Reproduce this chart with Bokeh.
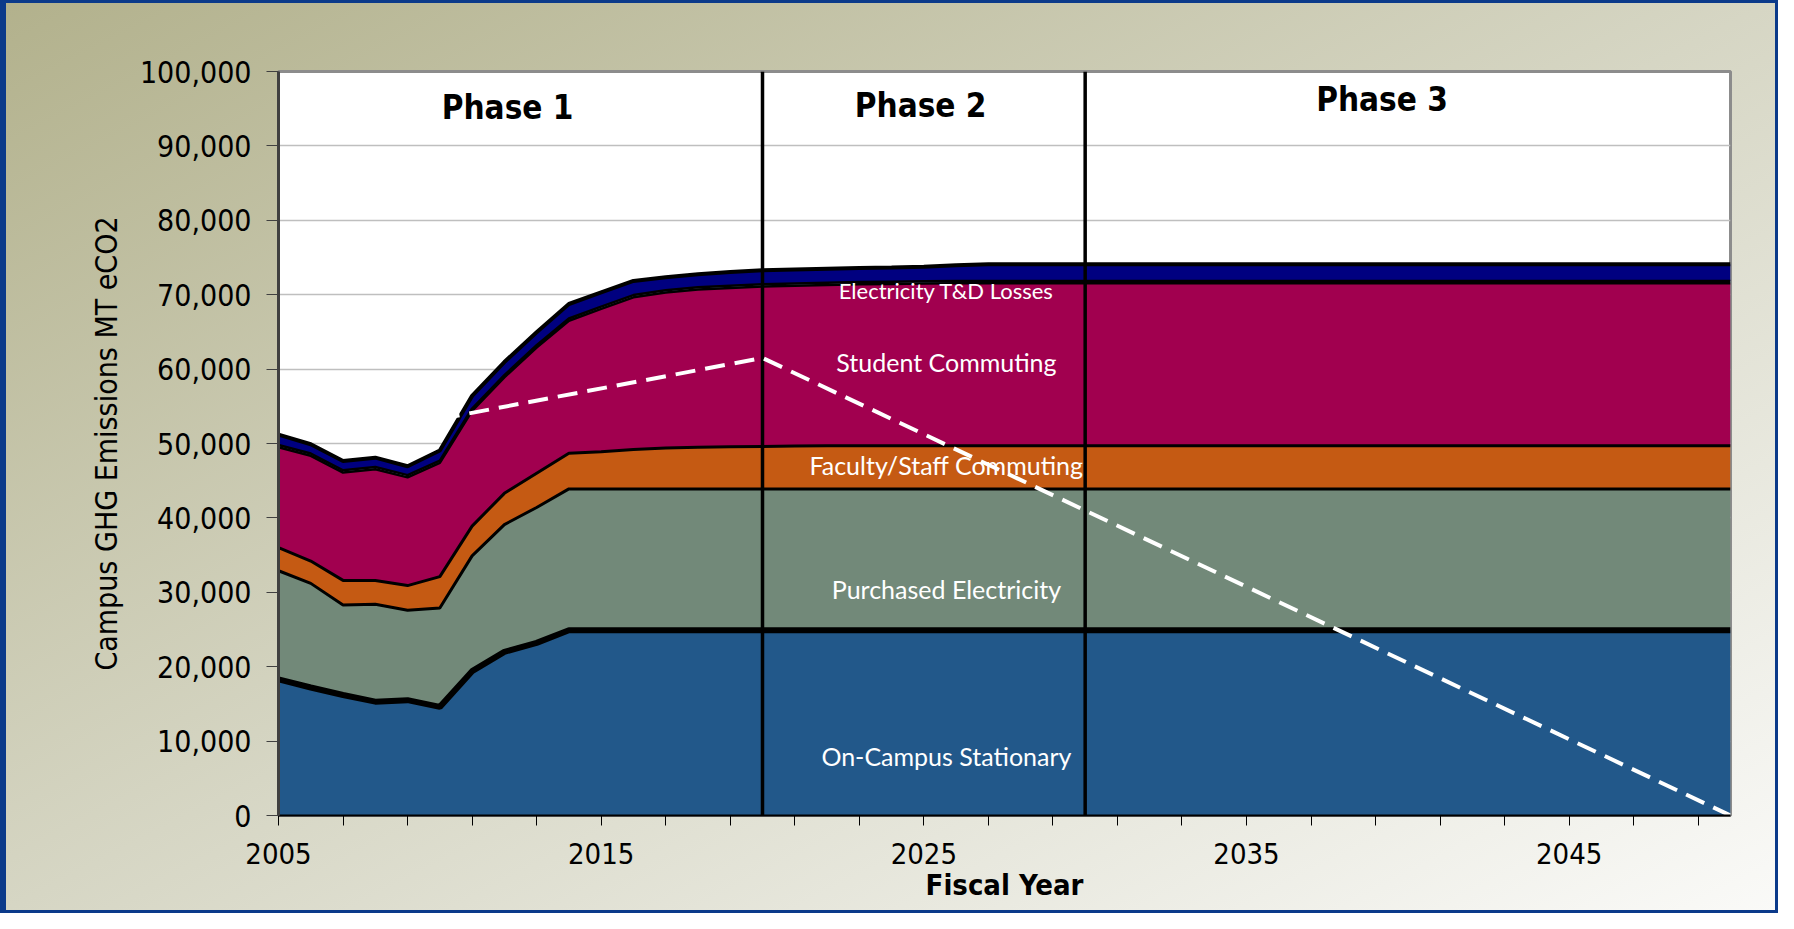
from bokeh.plotting import figure
from bokeh.models import (Range1d, FixedTicker, NumeralTickFormatter, Label,
                          ColumnDataSource)
from bokeh.transform import stack
from bokeh.embed import file_html
from bokeh.resources import INLINE

# ---------------- data ----------------
years = [2005, 2006, 2007, 2008, 2009, 2010, 2011, 2012, 2013, 2014,
         2015, 2016, 2017, 2018, 2019, 2020, 2021, 2022, 2023, 2024,
         2025, 2026, 2027, 2028, 2029, 2030, 2031, 2032, 2033, 2034,
         2035, 2036, 2037, 2038, 2039, 2040, 2041, 2042, 2043, 2044,
         2045, 2046, 2047, 2048, 2049, 2050]

on_campus = [18300, 17200, 16200, 15300, 15500, 14600, 19400, 22000, 23200, 24900,
             24900, 24900, 24900, 24900, 24900, 24900, 24900, 24900, 24900, 24900,
             24900, 24900, 24900, 24900, 24900, 24900, 24900, 24900, 24900, 24900,
             24900, 24900, 24900, 24900, 24900, 24900, 24900, 24900, 24900, 24900,
             24900, 24900, 24900, 24900, 24900, 24900]

purchased = [14600, 14000, 12100, 13100, 12100, 13300, 15500, 17100, 18200, 19000,
             19000, 19000, 19000, 19000, 19000, 19000, 19000, 19000, 19000, 19000,
             19000, 19000, 19000, 19000, 19000, 19000, 19000, 19000, 19000, 19000,
             19000, 19000, 19000, 19000, 19000, 19000, 19000, 19000, 19000, 19000,
             19000, 19000, 19000, 19000, 19000, 19000]

faculty = [3100, 3000, 3300, 3200, 3300, 4200, 4000, 4200, 4600, 4800,
           5000, 5300, 5500, 5600, 5650, 5700, 5750, 5800, 5800, 5800,
           5800, 5800, 5800, 5800, 5800, 5800, 5800, 5800, 5800, 5800,
           5800, 5800, 5800, 5800, 5800, 5800, 5800, 5800, 5800, 5800,
           5800, 5800, 5800, 5800, 5800, 5800]

student = [13500, 14150, 14500, 14950, 14550, 15300, 15500, 15600, 16900, 17800,
           19200, 20450, 20900, 21200, 21350, 21500, 21550, 21600, 21700, 21750,
           21800, 21850, 21850, 21850, 21850, 21850, 21850, 21850, 21850, 21850,
           21850, 21850, 21850, 21850, 21850, 21850, 21850, 21850, 21850, 21850,
           21850, 21850, 21850, 21850, 21850, 21850]

other = [300, 300, 300, 300, 300, 300, 300, 300, 300, 300,
         300, 300, 300, 300, 300, 300, 300, 300, 300, 300,
         300, 300, 300, 300, 300, 300, 300, 300, 300, 300,
         300, 300, 300, 300, 300, 300, 300, 300, 300, 300,
         300, 300, 300, 300, 300, 300]

td_losses = [1400, 1250, 1250, 1250, 1200, 1350, 1700, 1750, 1750, 1950,
             1900, 1900, 1750, 1750, 1850, 1900, 1900, 1900, 1900, 1900,
             1950, 2100, 2250, 2250, 2250, 2250, 2250, 2250, 2250, 2250,
             2250, 2250, 2250, 2250, 2250, 2250, 2250, 2250, 2250, 2250,
             2250, 2250, 2250, 2250, 2250, 2250]

target_years = [2010, 2020, 2050]
target_values = [53300, 61500, 0]

phase_bounds = [2020, 2030]
phase_names = ["Phase 1", "Phase 2", "Phase 3"]

series_labels = ["On-Campus Stationary", "Purchased Electricity",
                 "Faculty/Staff Commuting", "Student Commuting",
                 "Electricity T&D Losses"]

x_title = "Fiscal Year"
y_title = "Campus GHG Emissions MT eCO2"

y_ticks = [0, 10000, 20000, 30000, 40000, 50000, 60000, 70000, 80000, 90000, 100000]
x_major_ticks = [2005, 2015, 2025, 2035, 2045]
x_minor_ticks = [2007, 2009, 2011, 2013, 2017, 2019, 2021, 2023, 2027, 2029,
                 2031, 2033, 2037, 2039, 2041, 2043, 2047, 2049]

# ---------------- styling ----------------
NARROW = "'DejaVu Sans Condensed', 'Liberation Sans', sans-serif"
names = ["on_campus", "purchased", "faculty", "student", "other", "td"]
colors = ["#22588A", "#728979", "#C55A13", "#A1004F", "#7FA7CF", "#000080"]
edge_widths = [6, 3, 3, 2.5, 2.5, 4]

source = ColumnDataSource(dict(year=years, on_campus=on_campus, purchased=purchased,
                               faculty=faculty, student=student, other=other,
                               td=td_losses))

p = figure(width=1778, height=913,
           x_range=Range1d(years[0], years[-1]),
           y_range=Range1d(y_ticks[0], y_ticks[-1]),
           output_backend="svg", toolbar_location=None,
           min_border_left=278, min_border_right=48,
           min_border_top=71, min_border_bottom=98)

p.styles = {
    "background": "linear-gradient(to bottom right, #B2B18C 0%, #D6D6C4 50%, #FAFAF8 100%)",
    "box-shadow": "inset 6px 3px 0 0 #0B3A8A, inset -3px -3px 0 0 #0B3A8A",
}
p.border_fill_color = None
p.background_fill_color = "white"
p.outline_line_color = "#8C8C8C"
p.outline_line_width = 3

p.xgrid.visible = False
p.ygrid.grid_line_color = "#BFBFBF"
p.ygrid.grid_line_width = 1.5

# stacked areas
p.varea_stack(stackers=names, x="year", color=colors, source=source)
for i in range(len(names)):
    p.line(x="year", y=stack(*names[:i + 1]), source=source,
           line_color="black", line_width=edge_widths[i])

# phase boundaries
p.segment(x0=phase_bounds, y0=[y_ticks[0]] * len(phase_bounds),
          x1=phase_bounds, y1=[y_ticks[-1]] * len(phase_bounds),
          line_color="black", line_width=3.5)

# target trajectory
p.line(target_years, target_values, line_color="white", line_width=4,
       line_dash="20 10")

# axes
p.xaxis.ticker = FixedTicker(ticks=x_major_ticks, minor_ticks=x_minor_ticks)
p.yaxis.ticker = FixedTicker(ticks=y_ticks)
p.yaxis.formatter = NumeralTickFormatter(format="0,0")

for ax in (p.xaxis[0], p.yaxis[0]):
    ax.major_label_text_font = NARROW
    ax.major_label_text_color = "black"
    ax.major_tick_in = 0
    ax.minor_tick_in = 0
    ax.axis_label_text_font = NARROW
    ax.axis_label_text_color = "black"

p.xaxis.major_label_text_font_size = "29px"
p.xaxis.major_tick_out = 10
p.xaxis.minor_tick_out = 10
p.xaxis.major_tick_line_color = "black"
p.xaxis.minor_tick_line_color = "black"
p.xaxis.axis_line_color = "black"
p.xaxis.axis_line_width = 2
p.xaxis.major_label_standoff = 17
p.xaxis.axis_label = x_title
p.xaxis.axis_label_text_font_size = "29px"
p.xaxis.axis_label_text_font_style = "bold"
p.xaxis.axis_label_standoff = 1

p.yaxis.major_label_text_font_size = "30px"
p.yaxis.major_tick_out = 12
p.yaxis.minor_tick_line_color = None
p.yaxis.major_tick_line_color = "#404040"
p.yaxis.axis_line_color = "#404040"
p.yaxis.axis_line_width = 3
p.yaxis.major_label_standoff = 15
p.yaxis.axis_label = y_title
p.yaxis.axis_label_text_font_size = "30px"
p.yaxis.axis_label_text_font_style = "normal"
p.yaxis.axis_label_standoff = 13

# phase labels
phase_pos = [(2012.1, 95100), (2024.9, 95450), (2039.2, 96200)]
for name, (px, py) in zip(phase_names, phase_pos):
    p.add_layout(Label(x=px, y=py, text=name, text_align="center",
                       text_baseline="middle", text_font=NARROW,
                       text_font_size="33px", text_font_style="bold",
                       text_color="black"))

# series labels
label_pos = [(2025.7, 8020, "25px"), (2025.7, 30470, "25px"), (2025.7, 47080, "25px"),
             (2025.7, 61000, "25px"), (2025.7, 70540, "22px")]
for name, (lx, ly, fs) in zip(series_labels, label_pos):
    p.add_layout(Label(x=lx, y=ly, text=name, text_align="center",
                       text_baseline="middle", text_font="Lato",
                       text_font_size=fs, text_color="white"))

open("out.html", "w").write(file_html(p, INLINE))
